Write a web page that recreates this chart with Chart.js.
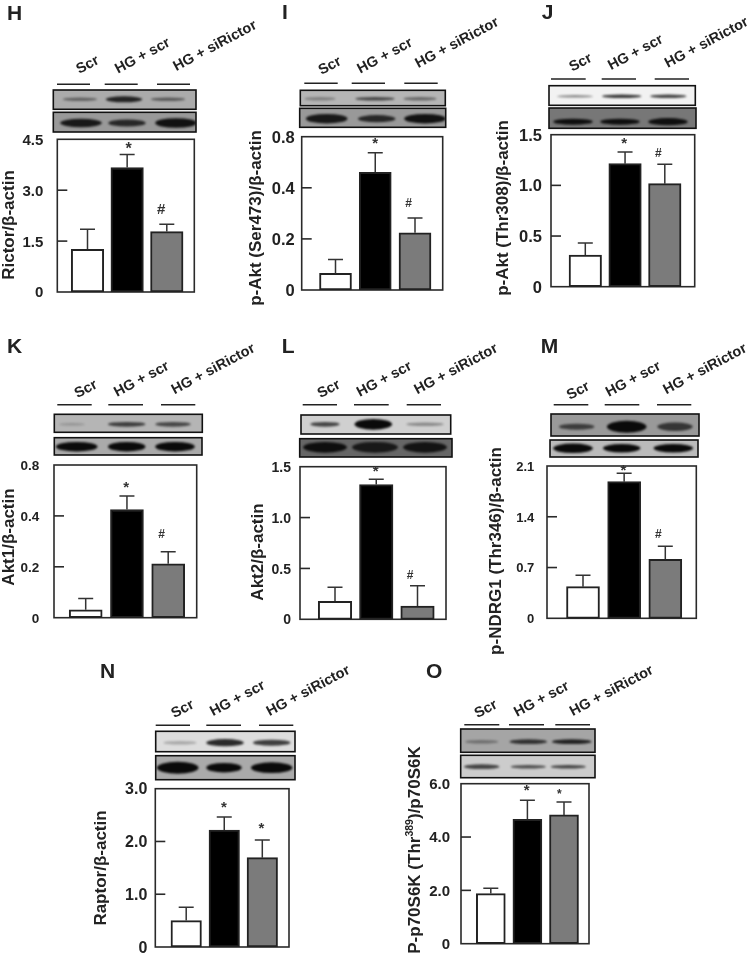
<!DOCTYPE html>
<html>
<head>
<meta charset="utf-8">
<script src="https://cdn.jsdelivr.net/npm/chart.js@4/dist/chart.umd.min.js"></script>
<style>
html,body{margin:0;padding:0;background:#fff;width:752px;height:957px;overflow:hidden}
canvas{position:absolute;left:0;top:0;filter:blur(.35px)}
</style>
</head>
<body>
<script>
// ---- data ----
const categories = ['Scr', 'HG + scr', 'HG + siRictor'];
const barColors = ['#ffffff', '#000000', '#7b7b7b'];

const rictorMeans = [1.26, 3.67, 1.78];
const rictorTops  = [1.85, 4.05, 2.00];
const rictorTicks = [0, 1.5, 3.0, 4.5];
const rictorTickLabels = ['0', '1.5', '3.0', '4.5'];

const aktS473Means = [0.065, 0.461, 0.224];
const aktS473Tops  = [0.119, 0.537, 0.282];
const aktS473Ticks = [0, 0.2, 0.4, 0.6];
const aktS473TickLabels = ['0', '0.2', '0.4', '0.8'];

const aktT308Means = [0.313, 1.214, 1.017];
const aktT308Tops  = [0.431, 1.33, 1.208];
const aktT308Ticks = [0, 0.5, 1.0, 1.5];
const aktT308TickLabels = ['0', '0.5', '1.0', '1.5'];

const akt1Means = [0.031, 0.425, 0.212];
const akt1Tops  = [0.075, 0.478, 0.259];
const akt1Ticks = [0, 0.2, 0.4, 0.6];
const akt1TickLabels = ['0', '0.2', '0.4', '0.8'];

const akt2Means = [0.177, 1.324, 0.131];
const akt2Tops  = [0.315, 1.377, 0.33];
const akt2Ticks = [0, 0.5, 1.0, 1.5];
const akt2TickLabels = ['0', '0.5', '1.0', '1.5'];

const ndrgMeans = [0.436, 1.884, 0.814];
const ndrgTops  = [0.593, 2.0, 0.993];
const ndrgTicks = [0, 0.7, 1.4, 2.1];
const ndrgTickLabels = ['0', '0.7', '1.4', '2.1'];

const raptorMeans = [0.5, 2.218, 1.693];
const raptorTops  = [0.753, 2.464, 2.03];
const raptorTicks = [0, 1.0, 2.0, 3.0];
const raptorTickLabels = ['0', '1.0', '2.0', '3.0'];

const p70Means = [1.88, 4.66, 4.83];
const p70Tops  = [2.08, 5.38, 5.31];
const p70Ticks = [0, 2.0, 4.0, 6.0];
const p70TickLabels = ['0', '2.0', '4.0', '6.0'];

// ---- panel layout ----
const panels = [
 {letter:'H', lx:7, ly:20, means:rictorMeans, tops:rictorTops, ticks:rictorTicks, tickLabels:rictorTickLabels,
  rect:[57.3,139.3,194.3,292], c0:87.5, sp:39.65, bw:32.5, tf:15, gap:14,
  title:[['Rictor/β-actin',0]], tx:9, ty:225, tfs:17,
  marks:[['*',1.04,4.33,16],['#',1.86,2.44,15]],
  lineY:84.3, lines:[[57,90],[104.7,137.7],[157,190]],
  labels:[[87.7,64],[142.7,55],[215,45]],
  blots:[[53.3,90,196,109.3,'#ababab',99.3,[[80,33,3,.45],[124,35,5,.85],[168,33,3,.5]]],
         [53.3,112.3,196,132,'#999',123,[[81,40,7,.9],[127,36,6,.8],[176,40,8,.95]]]]},
 {letter:'I', lx:282, ly:19, means:aktS473Means, tops:aktS473Tops, ticks:aktS473Ticks, tickLabels:aktS473TickLabels,
  rect:[301.7,136.7,442.7,290], c0:335.5, sp:39.75, bw:32, tf:16.5, gap:7,
  title:[['p-Akt (Ser473)/β-actin',0]], tx:256, ty:218, tfs:17,
  marks:[['*',1.0,.582,15],['#',1.84,.341,12]],
  lineY:83.3, lines:[[304.3,337.7],[351.7,385],[404.3,437.7]],
  labels:[[330,65],[385,55],[457,42]],
  blots:[[300.3,90.3,445.3,105.7,'#b5b5b5',98.7,[[320,30,3,.3],[375,38,3,.65],[420,32,3,.45]]],
         [299.7,108.3,445.7,127.3,'#999',118.7,[[326.7,40,8,.9],[376.7,36,6,.8],[425,40,8,.95]]]]},
 {letter:'J', lx:541.7, ly:19, means:aktT308Means, tops:aktT308Tops, ticks:aktT308Ticks, tickLabels:aktT308TickLabels,
  rect:[551,134.7,694.7,286.7], c0:585.3, sp:39.75, bw:32.5, tf:16.5, gap:9,
  title:[['p-Akt (Thr308)/β-actin',0]], tx:503, ty:208, tfs:17,
  marks:[['*',.98,1.438,15],['#',1.84,1.323,12]],
  lineY:79, lines:[[551,585.7],[601.7,636],[654.7,689]],
  labels:[[580.7,61.7],[635.7,51.7],[706.7,41.7]],
  blots:[[549,85.7,695.3,105.3,'#f2f2f2',96.3,[[575,35,2,.45],[621.7,38,3,.8],[668.3,35,3,.75]]],
         [549,108,696,128.3,'#777',121.7,[[573,38,5,.95],[620,38,5,.95],[668,38,6,.95]]]]},
 {letter:'K', lx:7, ly:353.3, means:akt1Means, tops:akt1Tops, ticks:akt1Ticks, tickLabels:akt1TickLabels,
  rect:[54,465,196.7,617.7], c0:85.7, sp:41.25, bw:33, tf:13.5, gap:14.7,
  title:[['Akt1/β-actin',0]], tx:9, ty:537, tfs:17,
  marks:[['*',.98,.52,15],['#',1.84,.331,12]],
  lineY:404.7, lines:[[57.3,91.7],[108.3,143],[161,195.3]],
  labels:[[86,388.3],[141.7,378.3],[213.3,368.3]],
  blots:[[54.3,414.3,202.3,432.3,'#b5b5b5',424.3,[[72,25,2,.2],[126.7,36,4,.7],[173,34,4,.65]]],
         [54.3,437.7,202,455,'#aaa',446.7,[[76.7,40,8,1],[126.7,36,8,1],[175,38,8,1]]]]},
 {letter:'L', lx:281.7, ly:353.3, means:akt2Means, tops:akt2Tops, ticks:akt2Ticks, tickLabels:akt2TickLabels,
  rect:[300,466.7,446,619.3], c0:335, sp:41.25, bw:33.5, tf:14, gap:9,
  title:[['Akt2/β-actin',0]], tx:258, ty:552, tfs:17,
  marks:[['*',.987,1.475,15],['#',1.82,.445,12]],
  lineY:404.7, lines:[[302.7,337],[354,388.7],[406.7,441]],
  labels:[[329,388.3],[384.3,378.3],[456,368.3]],
  blots:[[301,415,450.7,434,'#d0d0d0',424.3,[[325,28,4,.7],[373.3,36,9,1],[425,36,3,.35]]],
         [299.7,438.7,452,457,'#666',447.3,[[325,42,9,.95],[375,44,9,.85],[425,42,9,.9]]]]},
 {letter:'M', lx:540.7, ly:353.3, means:ndrgMeans, tops:ndrgTops, ticks:ndrgTicks, tickLabels:ndrgTickLabels,
  rect:[547,466,696.3,618.3], c0:583, sp:41.15, bw:33, tf:13, gap:12.7,
  title:[['p-NDRG1 (Thr346)/β-actin',0]], tx:496, ty:551, tfs:17,
  marks:[['*',.98,2.077,15],['#',1.83,1.172,12]],
  lineY:404.7, lines:[[553.7,588.3],[604.7,639.3],[657,691.3]],
  labels:[[578.3,390],[633.3,378.3],[705,368.3]],
  blots:[[551,414,699,436,'#999',426.7,[[576.7,34,5,.65],[626.7,38,10,1],[675,34,7,.7]]],
         [550,440,698,457,'#bbb',448.3,[[573,38,8,1],[621.7,36,7,1],[673.3,38,7,1]]]]},
 {letter:'N', lx:100, ly:678.3, means:raptorMeans, tops:raptorTops, ticks:raptorTicks, tickLabels:raptorTickLabels,
  rect:[155.3,788.7,289,947], c0:186.2, sp:38.05, bw:30.5, tf:16, gap:8,
  title:[['Raptor/β-actin',0]], tx:101.7, ty:868, tfs:17,
  marks:[['*',.99,2.69,15],['*',1.98,2.288,15]],
  lineY:725.3, lines:[[155.7,190],[206.3,241],[259,293.3]],
  labels:[[182.7,708.3],[237.7,697.7],[308.3,690]],
  blots:[[155.7,731.3,295,751.7,'#ddd',742.7,[[180,32,3,.25],[225,36,6,.85],[271.7,36,5,.75]]],
         [155.7,755.7,295,779.7,'#aaa',767.7,[[177.7,40,10,1],[224,34,8,1],[271.7,40,9,1]]]]},
 {letter:'O', lx:426, ly:678.3, means:p70Means, tops:p70Tops, ticks:p70Ticks, tickLabels:p70TickLabels,
  rect:[461,783.7,589,943.7], c0:490.8, sp:36.6, bw:29, tf:15, gap:11,
  title:[['P-p70S6K (Thr',0],['389',1],[')/p70S6K',0]], tx:415.7, ty:850, tfs:17,
  marks:[['*',.98,5.83,15],['*',1.87,5.7,12]],
  lineY:724.7, lines:[[464.3,499.3],[509,544],[555.3,590]],
  labels:[[486,708.3],[541.7,698.3],[611.7,690]],
  blots:[[460.7,729,595,752.3,'#a5a5a5',741.7,[[481.7,32,3,.35],[528.3,36,4,.75],[571.7,38,4,.85]]],
         [460.7,755.3,595,777.7,'#ccc',766.7,[[481.7,34,4,.7],[528.3,34,3,.65],[568.3,34,3,.7]]]]}
];

const FONT = '"Liberation Sans", Arial, sans-serif';
const INK = '#222';
const W = 752, H = 1000; // taller than the window so the lowest tick labels have room

function drawBlot(ctx, b) {
  const [x0,y0,x1,y1,bg,cy,bands] = b;
  ctx.save();
  ctx.beginPath(); ctx.rect(x0,y0,x1-x0,y1-y0); ctx.clip();
  ctx.fillStyle = bg; ctx.fillRect(x0,y0,x1-x0,y1-y0);
  ctx.filter = 'blur(1.1px)';
  bands.forEach(([cx,w,h,a]) => {
    ctx.fillStyle = 'rgba(10,10,10,'+a+')';
    ctx.beginPath(); ctx.ellipse(cx,cy,w*.52,h*.6,0,0,Math.PI*2); ctx.fill();
  });
  ctx.restore();
  ctx.strokeStyle = '#111'; ctx.lineWidth = 1.6;
  ctx.strokeRect(x0,y0,x1-x0,y1-y0);
}

const panelPlugin = {
  id: 'panelDecor',
  beforeDatasetsDraw(chart, args, o) {
    const p = o.panel, a = chart.chartArea, ctx = chart.ctx, ys = chart.scales.y;
    ctx.save();
    ctx.strokeStyle = '#2a2a2a'; ctx.lineWidth = 1.6;
    ctx.strokeRect(a.left, a.top, a.right-a.left, a.bottom-a.top);
    // inward tick marks at the inner ticks
    p.ticks.slice(1,-1).forEach(v => {
      const y = ys.getPixelForValue(v);
      ctx.beginPath(); ctx.moveTo(a.left,y); ctx.lineTo(a.left+10,y); ctx.stroke();
    });
    ctx.fillStyle = INK;
    // panel letter
    ctx.font = 'bold 21px '+FONT; ctx.textAlign = 'left'; ctx.textBaseline = 'alphabetic';
    ctx.fillText(p.letter, p.lx, p.ly);
    // group rules
    ctx.strokeStyle = '#222'; ctx.lineWidth = 1.4;
    p.lines.forEach(([a0,a1]) => { ctx.beginPath(); ctx.moveTo(a0,p.lineY); ctx.lineTo(a1,p.lineY); ctx.stroke(); });
    // slanted group labels
    ctx.font = 'bold 14.5px '+FONT; ctx.textAlign = 'center'; ctx.textBaseline = 'middle';
    categories.forEach((c,i) => {
      ctx.save(); ctx.translate(p.labels[i][0], p.labels[i][1]+1); ctx.rotate(-28*Math.PI/180);
      ctx.fillText(c,0,0); ctx.restore();
    });
    // blots
    p.blots.forEach(b => drawBlot(ctx,b));
    // axis title
    ctx.save();
    ctx.translate(p.tx, p.ty); ctx.rotate(-Math.PI/2);
    ctx.textAlign = 'left'; ctx.textBaseline = 'middle'; ctx.fillStyle = INK;
    const bold = p.tfs+'px '+FONT, sup = (p.tfs*.62)+'px '+FONT;
    let tot = 0;
    p.title.forEach(([t,s]) => { ctx.font = 'bold '+(s?sup:bold); tot += ctx.measureText(t).width; });
    let tx = -tot/2;
    p.title.forEach(([t,s]) => {
      ctx.font = 'bold '+(s?sup:bold);
      ctx.fillText(t, tx, s ? -p.tfs*.3 : 0);
      tx += ctx.measureText(t).width;
    });
    ctx.restore();
    ctx.restore();
  },
  afterDatasetsDraw(chart, args, o) {
    const p = o.panel, ctx = chart.ctx, xs = chart.scales.x, ys = chart.scales.y;
    ctx.save();
    ctx.strokeStyle = '#333'; ctx.lineWidth = 1.5; ctx.lineCap = 'butt';
    const cap = 7.5;
    p.means.forEach((m,i) => {
      const x = xs.getPixelForValue(i), y0 = ys.getPixelForValue(m), y1 = ys.getPixelForValue(p.tops[i]);
      ctx.beginPath(); ctx.moveTo(x,y0); ctx.lineTo(x,y1);
      ctx.moveTo(x-cap,y1); ctx.lineTo(x+cap,y1); ctx.stroke();
    });
    ctx.fillStyle = '#333'; ctx.textAlign = 'center'; ctx.textBaseline = 'alphabetic';
    p.marks.forEach(([t,x,v,size]) => {
      ctx.font = 'bold '+size+'px '+FONT;
      const mt = ctx.measureText(t);
      ctx.fillText(t, xs.getPixelForValue(x), ys.getPixelForValue(v) + (mt.actualBoundingBoxAscent - mt.actualBoundingBoxDescent)/2);
    });
    ctx.restore();
  }
};

panels.forEach(p => {
  const cv = document.createElement('canvas');
  cv.width = W; cv.height = H;
  cv.style.width = W+'px'; cv.style.height = H+'px';
  document.body.appendChild(cv);
  const [l,t,r,b] = p.rect;
  new Chart(cv.getContext('2d'), {
    type: 'bar',
    data: { datasets: [{
      data: p.means.map((v,i) => ({x:i, y:v})),
      backgroundColor: barColors,
      borderColor: '#222', borderWidth: 2, borderSkipped: false,
      barThickness: p.bw
    }]},
    options: {
      responsive: false, animation: false, devicePixelRatio: 1,
      layout: { padding: { left:0, top:t, right:W-r, bottom:H-b } },
      plugins: { legend:{display:false}, tooltip:{enabled:false}, title:{display:false}, panelDecor:{panel:p} },
      scales: {
        x: { type:'linear', offset:false, display:false, min:(l-p.c0)/p.sp, max:(r-p.c0)/p.sp, grid:{display:false} },
        y: {
          min: p.ticks[0], max: p.ticks[p.ticks.length-1],
          afterFit: s => { s.width = l; },
          afterBuildTicks: s => { s.ticks = p.ticks.map(v => ({value:v})); },
          border: { display:false },
          grid: { display:false, drawTicks:false },
          ticks: {
            autoSkip:false, padding:p.gap, labelOffset:1.3, color:INK, maxRotation:0,
            font:{ family:FONT, size:p.tf, weight:'bold' },
            callback:(v,i) => p.tickLabels[i]
          }
        }
      }
    },
    plugins: [panelPlugin]
  });
});
</script>
</body>
</html>
